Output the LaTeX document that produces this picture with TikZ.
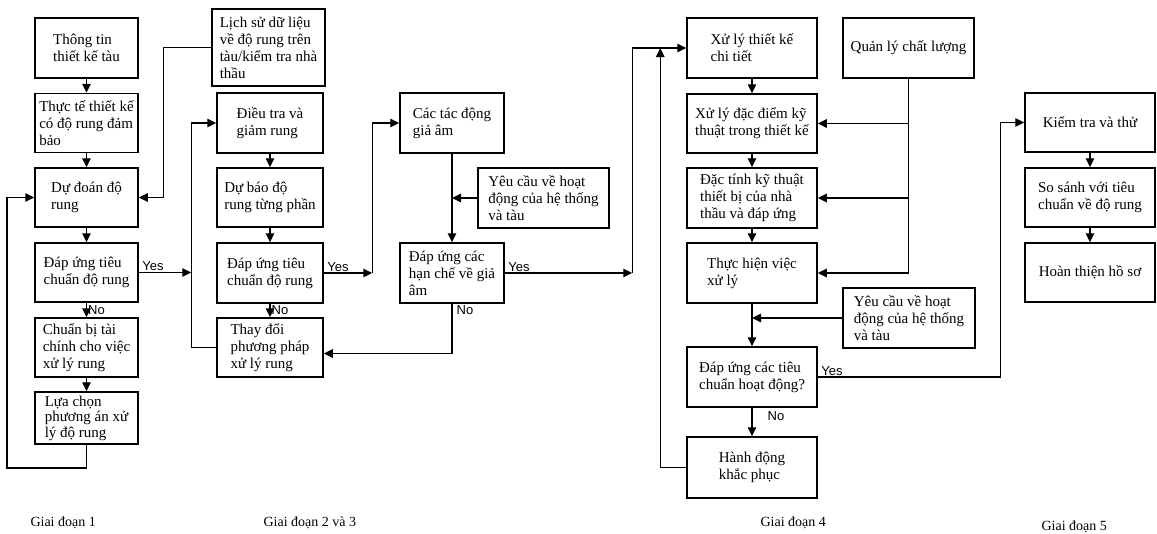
\documentclass[tikz,border=0pt]{standalone}
\usepackage{fontspec}
\setmainfont{Liberation Serif}
\newfontfamily\yesnofont{Liberation Sans}
\usetikzlibrary{arrows.meta,calc}

\begin{document}
\begin{tikzpicture}[x=1pt, y=-1pt,
    hop/.style={draw, line width=1.5pt, align=left, inner xsep=3pt, inner ysep=1pt,
                minimum height=59pt, font=\fontsize{15}{17}\selectfont},
    link/.style={line width=1.4pt, -{Triangle[length=9pt,width=8.5pt]}},
    plain/.style={line width=1.4pt},
    yn/.style={font=\yesnofont\fontsize{13}{13}\selectfont, inner sep=1pt},
    stage/.style={font=\fontsize{14}{16}\selectfont, anchor=west}]

    \useasboundingbox (0,0) rectangle (1157,533);

    \def\colA{86.5}
    \def\colB{270}
    \def\colC{452}
    \def\colD{752}
    \def\colE{1090}

    % Giai doan 1
    \node[hop, minimum width=103pt, minimum height=60pt] (thongtin) at (\colA,48) {Thông tin\\thiết kế tàu};
    \node[hop, minimum width=103pt] (thucte) at (\colA,123) {Thực tế thiết kế\\có độ rung đảm\\bảo};
    \node[hop, minimum width=103pt] (dudoan) at (\colA,197.5) {Dự đoán độ\\rung};
    \node[hop, minimum width=103pt] (dapung1) at (\colA,272.5) {Đáp ứng tiêu\\chuẩn độ rung};
    \node[hop, minimum width=103pt] (chuanbi) at (\colA,347.5) {Chuẩn bị tài\\chính cho việc\\xử lý rung};
    \node[hop, minimum width=103pt, minimum height=52pt, inner ysep=0pt,
          font=\fontsize{15}{15.5}\selectfont] (luachon) at (\colA,418) {Lựa chọn\\phương án xử\\lý độ rung};
    \node[hop, minimum width=113pt, minimum height=77pt] (lichsu) at (268.5,47.5) {Lịch sử dữ liệu\\về độ rung trên\\tàu/kiểm tra nhà\\thầu};

    % Giai doan 2 va 3
    \node[hop, minimum width=106pt, minimum height=60pt] (dieutra) at (\colB,123) {Điều tra và\\giảm rung};
    \node[hop, minimum width=106pt] (dubao) at (\colB,197.5) {Dự báo độ\\rung từng phần};
    \node[hop, minimum width=106pt, minimum height=60pt] (dapung2) at (\colB,273) {Đáp ứng tiêu\\chuẩn độ rung};
    \node[hop, minimum width=106pt] (thaydoi) at (\colB,347.5) {Thay đổi\\phương pháp\\xử lý rung};

    \node[hop, minimum width=104pt, minimum height=60pt] (cactacdong) at (\colC,123) {Các tác động\\giả âm};
    \node[hop, minimum width=131pt, minimum height=60pt] (yeucau1) at (543.5,198) {Yêu cầu về hoạt\\động của hệ thống\\và tàu};
    \node[hop, minimum width=104pt, minimum height=60pt] (dapungcac) at (\colC,273) {Đáp ứng các\\hạn chế về giả\\âm};

    % Giai doan 4
    \node[hop, minimum width=130pt, minimum height=60pt] (xulytk) at (\colD,48) {Xử lý thiết kế\\chi tiết};
    \node[hop, minimum width=131pt, minimum height=60pt] (qlcl) at (908.5,48) {Quản lý chất lượng};
    \node[hop, minimum width=130pt] (xulydd) at (\colD,123.5) {Xử lý đặc điểm kỹ\\thuật trong thiết kế};
    \node[hop, minimum width=130pt, minimum height=60pt] (dactinh) at (\colD,198) {Đặc tính kỹ thuật\\thiết bị của nhà\\thầu và đáp ứng};
    \node[hop, minimum width=130pt, minimum height=60pt] (thuchien) at (\colD,273) {Thực hiện việc\\xử lý};
    \node[hop, minimum width=132pt, minimum height=60pt] (yeucau2) at (909,318) {Yêu cầu về hoạt\\động của hệ thống\\và tàu};
    \node[hop, minimum width=130pt, minimum height=60pt] (dapung4) at (\colD,377) {Đáp ứng các tiêu\\chuẩn hoạt động?};
    \node[hop, minimum width=130pt, minimum height=61pt] (hanhdong) at (\colD,467.5) {Hành động\\khắc phục};

    % Giai doan 5
    \node[hop, minimum width=130pt] (kiemtra) at (\colE,122.5) {Kiểm tra và thử};
    \node[hop, minimum width=130pt] (sosanh) at (\colE,197.5) {So sánh với tiêu\\chuẩn về độ rung};
    \node[hop, minimum width=130pt] (hoanthien) at (\colE,272.5) {Hoàn thiện hồ sơ};

    % duong noi
    \coordinate (loopA) at (7,468);
    \coordinate (busA) at ($(dieutra.west)+(-25,0)$);
    \coordinate (busB) at ($(cactacdong.west)+(-27,0)$);
    \coordinate (busC) at ($(xulytk.west)+(-54,0)$);
    \coordinate (busD) at ($(xulytk.west)+(-26,0)$);
    \coordinate (busE) at ($(kiemtra.west)+(-24,0)$);

    \draw[link] (thongtin) -- (thucte);
    \draw[link] (thucte) -- (dudoan);
    \draw[link] (dudoan) -- (dapung1);
    \draw[link] (dapung1) -- node[yn, right]{No} (chuanbi);
    \draw[link] (chuanbi) -- (luachon);
    \draw[link] (luachon.south) |- (loopA) |- (dudoan.west);
    \draw[link] (lichsu.west) -| ($(dudoan.east)+(25,0)$) -- (dudoan.east);
    \draw[link] (dapung1.east) -- node[yn, pos=0, anchor=south west, xshift=2pt]{Yes} (dapung1.east -| busA);

    \draw[link] (dieutra) -- (dubao);
    \draw[link] (dubao) -- (dapung2);
    \draw[link] (dapung2) -- node[yn, right]{No} (thaydoi);
    \draw[link] (thaydoi.west) -| (busA) -- (dieutra.west);
    \draw[link] (dapung2.east) -- node[yn, pos=0, anchor=south west, xshift=2pt]{Yes} (dapung2.east -| busB);
    \draw[link] (dapung2.east -| busB) |- (cactacdong.west);

    \draw[link] (cactacdong) -- (dapungcac);
    \draw[link] (yeucau1.west) -- (yeucau1.west -| cactacdong.south);
    \draw[link] (dapungcac.south) node[yn, below right, xshift=3pt]{No} |- ($(thaydoi.east)+(0,6)$);
    \draw[link] (dapungcac.east) -- node[yn, pos=0, anchor=south west, xshift=2pt]{Yes} (dapungcac.east -| busC);
    \draw[link] (dapungcac.east -| busC) |- (xulytk.west);
    \draw[link] (hanhdong.west) -| (xulytk.west -| busD);

    \draw[link] (xulytk) -- (xulydd);
    \draw[link] (xulydd) -- (dactinh);
    \draw[link] (dactinh) -- (thuchien);
    \draw[link] (thuchien) -- (dapung4);
    \draw[link] (dapung4) -- node[yn, right=14pt, pos=0.3]{No} (hanhdong);
    \draw[plain] (qlcl.south) -- (qlcl.south |- thuchien.east);
    \foreach \n in {xulydd,dactinh,thuchien}
        \draw[link] (qlcl.south |- \n.east) -- (\n.east);
    \draw[link] (yeucau2.west) -- (yeucau2.west -| thuchien.south);
    \draw[link] (dapung4.east) -- node[yn, pos=0, anchor=south west, xshift=2pt]{Yes} (dapung4.east -| busE) |- (kiemtra.west);

    \draw[link] (kiemtra) -- (sosanh);
    \draw[link] (sosanh) -- (hoanthien);

    % nhan giai doan
    \node[stage] (gd1) at (27,523) {Giai đoạn 1};
    \node[stage] (gd23) at (260,523) {Giai đoạn 2 và 3};
    \node[stage] (gd4) at (757,523) {Giai đoạn 4};
    \node[stage] (gd5) at (1038,527) {Giai đoạn 5};

\end{tikzpicture}
\end{document}
